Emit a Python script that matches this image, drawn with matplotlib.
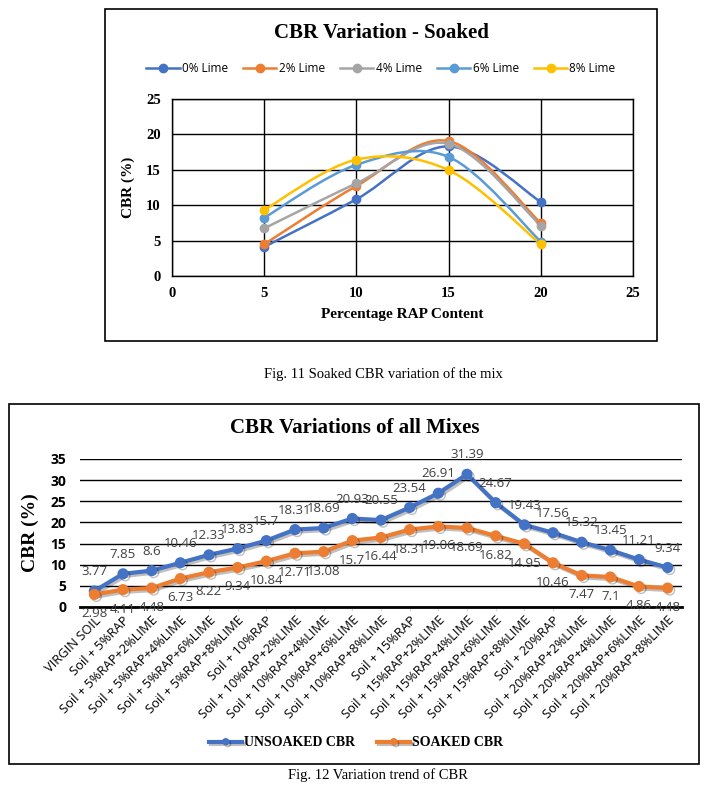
import numpy as np
import matplotlib.pyplot as plt
import matplotlib.patheffects as pe
from matplotlib.path import Path
from matplotlib.patches import PathPatch, Rectangle

# soaked CBR by lime content (Fig. 11)
rap = [5, 10, 15, 20]
lime_labels = ['0% Lime', '2% Lime', '4% Lime', '6% Lime', '8% Lime']
lime_0 = [4.11, 10.84, 18.31, 10.46]
lime_2 = [4.48, 12.71, 19.06, 7.47]
lime_4 = [6.73, 13.08, 18.69, 7.1]
lime_6 = [8.22, 15.7, 16.82, 4.86]
lime_8 = [9.34, 16.44, 14.95, 4.48]
lime_colors = ['#4472C4', '#ED7D31', '#A5A5A5', '#5B9BD5', '#FFC000']

# all mixes (Fig. 12)
mixes = ['VIRGIN SOIL', 'Soil + 5%RAP', 'Soil + 5%RAP+2%LIME', 'Soil + 5%RAP+4%LIME',
         'Soil + 5%RAP+6%LIME', 'Soil + 5%RAP+8%LIME', 'Soil + 10%RAP',
         'Soil + 10%RAP+2%LIME', 'Soil + 10%RAP+4%LIME', 'Soil + 10%RAP+6%LIME',
         'Soil + 10%RAP+8%LIME', 'Soil + 15%RAP', 'Soil + 15%RAP+2%LIME',
         'Soil + 15%RAP+4%LIME', 'Soil + 15%RAP+6%LIME', 'Soil + 15%RAP+8%LIME',
         'Soil + 20%RAP', 'Soil + 20%RAP+2%LIME', 'Soil + 20%RAP+4%LIME',
         'Soil + 20%RAP+6%LIME', 'Soil + 20%RAP+8%LIME']
unsoaked = [3.77, 7.85, 8.6, 10.46, 12.33, 13.83, 15.7, 18.31, 18.69, 20.93, 20.55,
            23.54, 26.91, 31.39, 24.67, 19.43, 17.56, 15.32, 13.45, 11.21, 9.34]
soaked = [2.98, 4.11, 4.48, 6.73, 8.22, 9.34, 10.84, 12.71, 13.08, 15.7, 16.44,
          18.31, 19.06, 18.69, 16.82, 14.95, 10.46, 7.47, 7.1, 4.86, 4.48]

serif = 'Liberation Serif'
sans = 'Open Sans'


def smooth_path(x, y):
    # bezier path through the points, like excel's smoothed line
    x = np.asarray(x, float)
    y = np.asarray(y, float)
    verts = [(x[0], y[0])]
    codes = [Path.MOVETO]
    n = len(x)
    for i in range(n - 1):
        p0 = np.array([x[max(i - 1, 0)], y[max(i - 1, 0)]])
        p1 = np.array([x[i], y[i]])
        p2 = np.array([x[i + 1], y[i + 1]])
        p3 = np.array([x[min(i + 2, n - 1)], y[min(i + 2, n - 1)]])
        c1 = p1 + (p2 - p0) / 6
        c2 = p2 - (p3 - p1) / 6
        verts += [tuple(c1), tuple(c2), tuple(p2)]
        codes += [Path.CURVE4] * 3
    return Path(verts, codes)


fig = plt.figure(figsize=(7.12, 7.89), dpi=100)

# frames around both charts
fig.patches.append(Rectangle((105 / 712, 1 - 341 / 789), 552 / 712, 332 / 789,
                             transform=fig.transFigure, fill=False, ec='black', lw=1.2))
fig.patches.append(Rectangle((9 / 712, 1 - 764 / 789), 690 / 712, 360 / 789,
                             transform=fig.transFigure, fill=False, ec='black', lw=1.2))

# ---- top chart ----
ax1 = fig.add_axes([172 / 712, 1 - 276 / 789, 461 / 712, 177 / 789])
series = [lime_0, lime_2, lime_4, lime_6, lime_8]
for vals, col, lab in zip(series, lime_colors, lime_labels):
    ax1.add_patch(PathPatch(smooth_path(rap, vals), fill=False, ec=col, lw=1.8, zorder=3))
    ax1.plot(rap, vals, 'o', color=col, ms=6, zorder=4)
    ax1.plot([], [], '-o', color=col, ms=6, lw=1.8, label=lab)
ax1.set_xlim(0, 25)
ax1.set_ylim(0, 25)
ax1.set_xticks(range(0, 26, 5))
ax1.set_yticks(range(0, 26, 5))
ax1.grid(True, color='black', lw=1)
ax1.set_axisbelow(True)
ax1.tick_params(length=0, pad=8)
for t in ax1.get_xticklabels() + ax1.get_yticklabels():
    t.set_fontfamily(serif)
    t.set_fontweight('bold')
    t.set_fontsize(10.5)
for s in ax1.spines.values():
    s.set_color('black')
    s.set_linewidth(1)
ax1.set_xlabel('Percentage RAP Content', fontfamily=serif, fontweight='bold', fontsize=11, labelpad=6)
ax1.set_ylabel('CBR (%)', fontfamily=serif, fontweight='bold', fontsize=11, labelpad=8)
ax1.legend(loc='center', bbox_to_anchor=(381 / 712, 1 - 69 / 789), bbox_transform=fig.transFigure,
           ncol=5, frameon=False, prop={'family': sans, 'size': 8.5},
           handlelength=2.8, columnspacing=1.3, handletextpad=0.2)
fig.text(381 / 712, 1 - 33 / 789, 'CBR Variation - Soaked', ha='center', va='center',
         fontfamily=serif, fontweight='bold', fontsize=15)
fig.text(383 / 712, 1 - 374 / 789, 'Fig. 11 Soaked CBR variation of the mix', ha='center',
         va='center', fontfamily=serif, fontsize=10.5)

# ---- bottom chart ----
ax2 = fig.add_axes([80 / 712, 1 - 607 / 789, 602 / 712, 148 / 789])
x = np.arange(len(mixes))
shadow = [pe.SimpleLineShadow(offset=(1.5, -1.5), alpha=0.25), pe.Normal()]
ax2.plot(x, unsoaked, '-o', color='#4472C4', lw=3, ms=7, label='UNSOAKED CBR',
         path_effects=shadow, zorder=4)
ax2.plot(x, soaked, '-o', color='#ED7D31', lw=3, ms=7, label='SOAKED CBR',
         path_effects=shadow, zorder=4)
for xi, v in zip(x, unsoaked):
    ax2.annotate(f'{v:g}', (xi, v), xytext=(0, 14), textcoords='offset points', ha='center',
                 va='center', fontfamily=sans, fontsize=9.5, color='#404040', zorder=5)
for xi, v in zip(x, soaked):
    ax2.annotate(f'{v:g}', (xi, v), xytext=(0, -14), textcoords='offset points', ha='center',
                 va='center', fontfamily=sans, fontsize=9.5, color='#404040', zorder=5)
ax2.set_xlim(-0.5, len(mixes) - 0.5)
ax2.set_ylim(0, 35)
ax2.set_yticks(range(0, 36, 5))
ax2.yaxis.grid(True, color='black', lw=1)
ax2.set_axisbelow(True)
for s in ['top', 'right', 'left']:
    ax2.spines[s].set_visible(False)
ax2.spines['bottom'].set_linewidth(2)
ax2.set_xticks(x)
ax2.set_xticklabels(mixes, rotation=45, ha='right', rotation_mode='anchor',
                    fontfamily=sans, fontsize=9.3)
ax2.tick_params(axis='x', length=3, color='#D9D9D9', pad=2)
ax2.tick_params(axis='y', length=0, pad=10)
for t in ax2.get_yticklabels():
    t.set_fontfamily(sans)
    t.set_fontweight('bold')
    t.set_fontsize(10)
ax2.set_ylabel('CBR (%)', fontfamily=serif, fontweight='bold', fontsize=14, labelpad=8)
ax2.legend(loc='center', bbox_to_anchor=(356 / 712, 1 - 743 / 789), bbox_transform=fig.transFigure,
           ncol=2, frameon=False, prop={'family': serif, 'weight': 'bold', 'size': 10},
           handlelength=2.4, columnspacing=1.6, handletextpad=0.1, markerscale=0.6)
fig.text(355 / 712, 1 - 428 / 789, 'CBR Variations of all Mixes', ha='center', va='center',
         fontfamily=serif, fontweight='bold', fontsize=15)
fig.text(378 / 712, 1 - 775 / 789, 'Fig. 12 Variation trend of CBR', ha='center', va='center',
         fontfamily=serif, fontsize=10.5)

fig.savefig('out.png', dpi=100)
